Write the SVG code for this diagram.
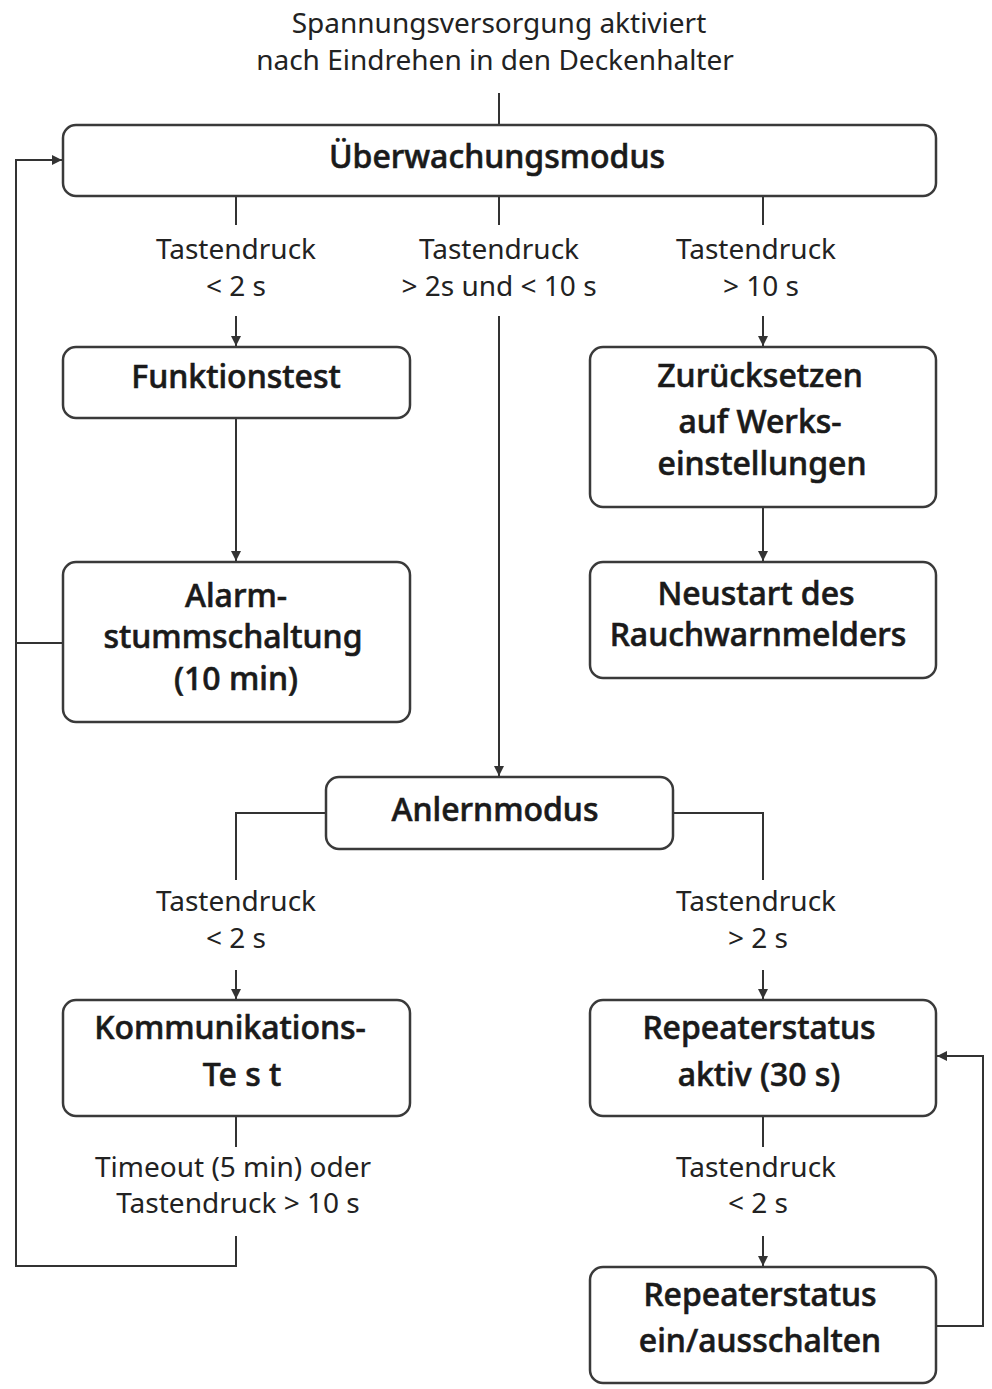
<svg xmlns="http://www.w3.org/2000/svg" width="992" height="1389" viewBox="0 0 992 1389">
<style>
.box{fill:#fff;stroke:#3a3a3a;stroke-width:2.5}
.n{font-family:"Noto Sans","Open Sans",sans-serif;font-size:32px;font-weight:500;fill:#1a1a1a;stroke:#1a1a1a;stroke-width:0.6;text-anchor:middle}
.l{font-family:"Noto Sans","Open Sans",sans-serif;font-size:28px;font-weight:400;fill:#222;text-anchor:middle}
.c{fill:none;stroke:#333;stroke-width:2}
</style>
<defs>
<marker id="ah" viewBox="0 0 10 10" refX="10" refY="5" markerWidth="10" markerHeight="10" markerUnits="userSpaceOnUse" orient="auto">
<path d="M0,0 L10,5 L0,10 Z" fill="#333"/>
</marker>
</defs>
<rect width="992" height="1389" fill="#fff"/>
<g id="start-label">
<text class="l" x="499" y="33">Spannungsversorgung aktiviert</text>
<text class="l" x="495" y="70">nach Eindrehen in den Deckenhalter</text>
</g>
<g id="connectors">
<path class="c" d="M499,93 V125"/>
<path class="c" d="M236,196 V225"/>
<path class="c" d="M499,196 V225"/>
<path class="c" d="M763,196 V225"/>
<path class="c" d="M236,316 V346" marker-end="url(#ah)"/>
<path class="c" d="M763,316 V346" marker-end="url(#ah)"/>
<path class="c" d="M499,316 V776" marker-end="url(#ah)"/>
<path class="c" d="M236,418 V561" marker-end="url(#ah)"/>
<path class="c" d="M763,507 V561" marker-end="url(#ah)"/>
<path class="c" d="M63,643 H16"/>
<path class="c" d="M236,1236 V1266 H16 V160 H62" marker-end="url(#ah)"/>
<path class="c" d="M326,813 H236 V880"/>
<path class="c" d="M673,813 H763 V880"/>
<path class="c" d="M236,970 V999" marker-end="url(#ah)"/>
<path class="c" d="M763,970 V999" marker-end="url(#ah)"/>
<path class="c" d="M236,1116 V1147"/>
<path class="c" d="M763,1116 V1147"/>
<path class="c" d="M763,1236 V1266" marker-end="url(#ah)"/>
<path class="c" d="M936,1326 H983 V1056 H937" marker-end="url(#ah)"/>
</g>
<g id="labels">
<text class="l" x="236" y="259">Tastendruck</text>
<text class="l" x="236" y="296">&lt; 2 s</text>
<text class="l" x="499" y="259">Tastendruck</text>
<text class="l" x="499" y="296">&gt; 2s und &lt; 10 s</text>
<text class="l" x="756" y="259">Tastendruck</text>
<text class="l" x="761" y="296">&gt; 10 s</text>
<text class="l" x="236" y="911">Tastendruck</text>
<text class="l" x="236" y="948">&lt; 2 s</text>
<text class="l" x="756" y="911">Tastendruck</text>
<text class="l" x="758" y="948">&gt; 2 s</text>
<text class="l" x="233" y="1177">Timeout (5 min) oder</text>
<text class="l" x="238" y="1213">Tastendruck &gt; 10 s</text>
<text class="l" x="756" y="1177">Tastendruck</text>
<text class="l" x="758" y="1213">&lt; 2 s</text>
</g>
<g id="ueberwachungsmodus">
<rect class="box" x="63" y="125" width="873" height="71" rx="13"/>
<text class="n" x="497" y="168">Überwachungsmodus</text>
</g>
<g id="funktionstest">
<rect class="box" x="63" y="347" width="347" height="71" rx="13"/>
<text class="n" x="236" y="388">Funktionstest</text>
</g>
<g id="alarmstummschaltung">
<rect class="box" x="63" y="562" width="347" height="160" rx="13"/>
<text class="n" x="236" y="607">Alarm-</text>
<text class="n" x="233" y="648">stummschaltung</text>
<text class="n" x="236" y="690">(10 min)</text>
</g>
<g id="zuruecksetzen">
<rect class="box" x="590" y="347" width="346" height="160" rx="13"/>
<text class="n" x="760" y="387">Zurücksetzen</text>
<text class="n" x="760" y="433">auf Werks-</text>
<text class="n" x="762" y="475">einstellungen</text>
</g>
<g id="neustart">
<rect class="box" x="590" y="562" width="346" height="116" rx="13"/>
<text class="n" x="756" y="605">Neustart des</text>
<text class="n" x="758" y="646">Rauchwarnmelders</text>
</g>
<g id="anlernmodus">
<rect class="box" x="326" y="777" width="347" height="72" rx="13"/>
<text class="n" x="495" y="821">Anlernmodus</text>
</g>
<g id="kommunikationstest">
<rect class="box" x="63" y="1000" width="347" height="116" rx="13"/>
<text class="n" x="230" y="1039">Kommunikations-</text>
<text class="n" x="242" y="1086">Te s t</text>
</g>
<g id="repeater-aktiv">
<rect class="box" x="590" y="1000" width="346" height="116" rx="13"/>
<text class="n" x="759" y="1039">Repeaterstatus</text>
<text class="n" x="759" y="1086">aktiv (30 s)</text>
</g>
<g id="repeater-schalten">
<rect class="box" x="590" y="1267" width="346" height="116" rx="13"/>
<text class="n" x="760" y="1306">Repeaterstatus</text>
<text class="n" x="760" y="1352">ein/ausschalten</text>
</g>
</svg>
